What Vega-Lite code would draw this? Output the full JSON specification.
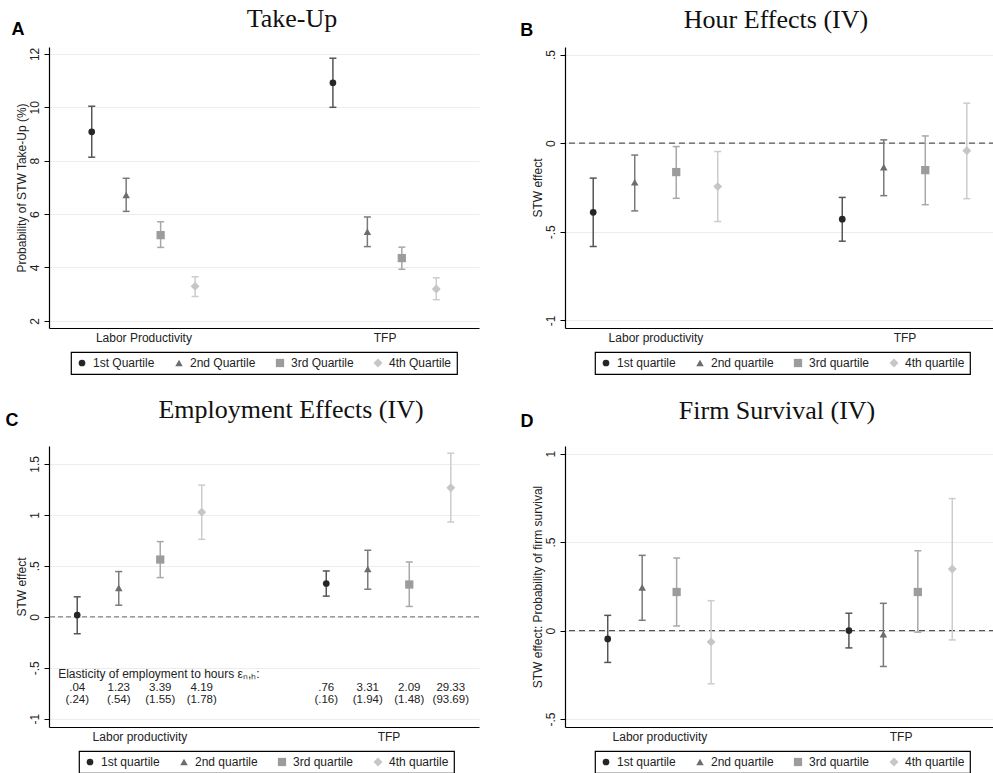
{
  "$schema": "https://vega.github.io/schema/vega-lite/v6.json",
  "background": "white",
  "padding": {"left": 5, "top": 5, "right": 0, "bottom": 0},
  "datasets": {
    "takeup": [
      {"group": "Labor Productivity", "pos": 1, "q": "1st Quartile", "est": 9.08, "lo": 8.13, "hi": 10.04},
      {"group": "Labor Productivity", "pos": 2, "q": "2nd Quartile", "est": 6.71, "lo": 6.10, "hi": 7.34},
      {"group": "Labor Productivity", "pos": 3, "q": "3rd Quartile", "est": 5.21, "lo": 4.75, "hi": 5.71},
      {"group": "Labor Productivity", "pos": 4, "q": "4th Quartile", "est": 3.29, "lo": 2.91, "hi": 3.65},
      {"group": "TFP", "pos": 8, "q": "1st Quartile", "est": 10.92, "lo": 10.00, "hi": 11.84},
      {"group": "TFP", "pos": 9, "q": "2nd Quartile", "est": 5.34, "lo": 4.78, "hi": 5.89},
      {"group": "TFP", "pos": 10, "q": "3rd Quartile", "est": 4.35, "lo": 3.93, "hi": 4.76},
      {"group": "TFP", "pos": 11, "q": "4th Quartile", "est": 3.19, "lo": 2.79, "hi": 3.61}
    ],
    "hours": [
      {"group": "Labor productivity", "pos": 1, "q": "1st quartile", "est": -0.39, "lo": -0.583, "hi": -0.197},
      {"group": "Labor productivity", "pos": 2, "q": "2nd quartile", "est": -0.221, "lo": -0.382, "hi": -0.067},
      {"group": "Labor productivity", "pos": 3, "q": "3rd quartile", "est": -0.163, "lo": -0.311, "hi": -0.019},
      {"group": "Labor productivity", "pos": 4, "q": "4th quartile", "est": -0.245, "lo": -0.442, "hi": -0.047},
      {"group": "TFP", "pos": 7, "q": "1st quartile", "est": -0.429, "lo": -0.553, "hi": -0.306},
      {"group": "TFP", "pos": 8, "q": "2nd quartile", "est": -0.135, "lo": -0.296, "hi": 0.019},
      {"group": "TFP", "pos": 9, "q": "3rd quartile", "est": -0.152, "lo": -0.347, "hi": 0.041},
      {"group": "TFP", "pos": 10, "q": "4th quartile", "est": -0.043, "lo": -0.313, "hi": 0.226}
    ],
    "employment": [
      {"group": "Labor productivity", "pos": 1, "q": "1st quartile", "est": 0.017, "lo": -0.166, "hi": 0.196, "elas": ".04", "se": "(.24)"},
      {"group": "Labor productivity", "pos": 2, "q": "2nd quartile", "est": 0.284, "lo": 0.114, "hi": 0.444, "elas": "1.23", "se": "(.54)"},
      {"group": "Labor productivity", "pos": 3, "q": "3rd quartile", "est": 0.562, "lo": 0.385, "hi": 0.738, "elas": "3.39", "se": "(1.55)"},
      {"group": "Labor productivity", "pos": 4, "q": "4th quartile", "est": 1.027, "lo": 0.760, "hi": 1.292, "elas": "4.19", "se": "(1.78)"},
      {"group": "TFP", "pos": 7, "q": "1st quartile", "est": 0.327, "lo": 0.203, "hi": 0.450, "elas": ".76", "se": "(.16)"},
      {"group": "TFP", "pos": 8, "q": "2nd quartile", "est": 0.470, "lo": 0.271, "hi": 0.653, "elas": "3.31", "se": "(1.94)"},
      {"group": "TFP", "pos": 9, "q": "3rd quartile", "est": 0.317, "lo": 0.102, "hi": 0.538, "elas": "2.09", "se": "(1.48)"},
      {"group": "TFP", "pos": 10, "q": "4th quartile", "est": 1.266, "lo": 0.930, "hi": 1.605, "elas": "29.33", "se": "(93.69)"}
    ],
    "survival": [
      {"group": "Labor productivity", "pos": 1, "q": "1st quartile", "est": -0.047, "lo": -0.180, "hi": 0.086},
      {"group": "Labor productivity", "pos": 2, "q": "2nd quartile", "est": 0.244, "lo": 0.058, "hi": 0.425},
      {"group": "Labor productivity", "pos": 3, "q": "3rd quartile", "est": 0.218, "lo": 0.026, "hi": 0.410},
      {"group": "Labor productivity", "pos": 4, "q": "4th quartile", "est": -0.064, "lo": -0.301, "hi": 0.169},
      {"group": "TFP", "pos": 8, "q": "1st quartile", "est": 0.0, "lo": -0.098, "hi": 0.098},
      {"group": "TFP", "pos": 9, "q": "2nd quartile", "est": -0.021, "lo": -0.203, "hi": 0.154},
      {"group": "TFP", "pos": 10, "q": "3rd quartile", "est": 0.218, "lo": -0.009, "hi": 0.451},
      {"group": "TFP", "pos": 11, "q": "4th quartile", "est": 0.348, "lo": -0.053, "hi": 0.746}
    ]
  },
  "columns": 2,
  "spacing": {"row": 22, "column": 40},
  "concat": [
    {
      "width": 430, "height": 281,
      "title": {"text": "Take-Up", "dx": 28},
      "data": {"name": "takeup"},
      "layer": [
        {
          "mark": {"type": "rule", "strokeWidth": 1.5},
          "encoding": {
            "x": {"field": "pos", "type": "quantitative", "scale": {"domain": [-0.24, 12.24], "nice": false, "zero": false},
                  "axis": {"values": [2.5, 9.5], "labelExpr": "datum.value < 6 ? 'Labor Productivity' : 'TFP'", "title": null}},
            "y": {"field": "lo", "type": "quantitative", "scale": {"domain": [1.73, 12.26], "nice": false, "zero": false},
                  "axis": {"values": [2, 4, 6, 8, 10, 12], "title": "Probability of STW Take-Up (%)"}},
            "y2": {"field": "hi"},
            "stroke": {"field": "q", "type": "nominal", "legend": null,
                       "scale": {"range": ["#555555", "#7a7a7a", "#a8a8a8", "#cccccc"]}}
          }
        },
        {
          "mark": {"type": "rule", "strokeWidth": 1.5, "xOffset": -3.5, "x2Offset": 3.5},
          "encoding": {
            "x": {"field": "pos", "type": "quantitative"},
            "x2": {"field": "pos"},
            "y": {"field": "lo", "type": "quantitative"},
            "stroke": {"field": "q", "type": "nominal", "legend": null}
          }
        },
        {
          "mark": {"type": "rule", "strokeWidth": 1.5, "xOffset": -3.5, "x2Offset": 3.5},
          "encoding": {
            "x": {"field": "pos", "type": "quantitative"},
            "x2": {"field": "pos"},
            "y": {"field": "hi", "type": "quantitative"},
            "stroke": {"field": "q", "type": "nominal", "legend": null}
          }
        },
        {
          "mark": {"type": "point", "filled": true, "opacity": 1},
          "encoding": {
            "x": {"field": "pos", "type": "quantitative"},
            "y": {"field": "est", "type": "quantitative"},
            "color": {"field": "q", "type": "nominal", "legend": {"title": null, "legendX": 22, "legendY": 305},
                      "scale": {"domain": ["1st Quartile", "2nd Quartile", "3rd Quartile", "4th Quartile"], "range": ["#262626", "#6d6d6d", "#9c9c9c", "#c6c6c6"]}},
            "shape": {"field": "q", "type": "nominal", "legend": {"title": null, "legendX": 22, "legendY": 305},
                      "scale": {"domain": ["1st Quartile", "2nd Quartile", "3rd Quartile", "4th Quartile"], "range": ["circle", "triangle-up", "square", "diamond"]}},
            "size": {"field": "q", "type": "nominal", "legend": {"title": null, "legendX": 22, "legendY": 305},
                     "scale": {"domain": ["1st Quartile", "2nd Quartile", "3rd Quartile", "4th Quartile"], "range": [45, 80, 50, 85]}}
          }
        },
        {
          "data": {"values": [{"panel": "A"}]},
          "mark": {"type": "text", "font": "Liberation Sans", "fontSize": 18, "fontWeight": "bold", "align": "center", "baseline": "middle", "color": "#000"},
          "encoding": {
            "text": {"field": "panel"},
            "x": {"datum": -1.14},
            "y": {"datum": 12.9}
          }
        }
      ]
    },
    {
      "width": 430, "height": 281,
      "title": {"text": "Hour Effects (IV)", "dx": -4},
      "data": {"name": "hours"},
      "layer": [
        {
          "data": {"values": [{}]},
          "mark": {"type": "rule", "strokeDash": [6, 4], "color": "#555555", "strokeWidth": 1.2},
          "encoding": {"y": {"datum": 0}}
        },
        {
          "mark": {"type": "rule", "strokeWidth": 1.5},
          "encoding": {
            "x": {"field": "pos", "type": "quantitative", "scale": {"domain": [0.32, 10.68], "nice": false, "zero": false},
                  "axis": {"values": [2.5, 8.5], "labelExpr": "datum.value < 5 ? 'Labor productivity' : 'TFP'", "title": null}},
            "y": {"field": "lo", "type": "quantitative", "scale": {"domain": [-1.043, 0.543], "nice": false, "zero": false},
                  "axis": {"values": [-1, -0.5, 0, 0.5], "labelExpr": "replace(toString(datum.value), '0.', '.')", "title": "STW effect"}},
            "y2": {"field": "hi"},
            "stroke": {"field": "q", "type": "nominal", "legend": null,
                       "scale": {"range": ["#555555", "#7a7a7a", "#a8a8a8", "#cccccc"]}}
          }
        },
        {
          "mark": {"type": "rule", "strokeWidth": 1.5, "xOffset": -3.5, "x2Offset": 3.5},
          "encoding": {
            "x": {"field": "pos", "type": "quantitative"},
            "x2": {"field": "pos"},
            "y": {"field": "lo", "type": "quantitative"},
            "stroke": {"field": "q", "type": "nominal", "legend": null}
          }
        },
        {
          "mark": {"type": "rule", "strokeWidth": 1.5, "xOffset": -3.5, "x2Offset": 3.5},
          "encoding": {
            "x": {"field": "pos", "type": "quantitative"},
            "x2": {"field": "pos"},
            "y": {"field": "hi", "type": "quantitative"},
            "stroke": {"field": "q", "type": "nominal", "legend": null}
          }
        },
        {
          "mark": {"type": "point", "filled": true, "opacity": 1},
          "encoding": {
            "x": {"field": "pos", "type": "quantitative"},
            "y": {"field": "est", "type": "quantitative"},
            "color": {"field": "q", "type": "nominal", "legend": {"title": null, "legendX": 30, "legendY": 305},
                      "scale": {"domain": ["1st quartile", "2nd quartile", "3rd quartile", "4th quartile"], "range": ["#262626", "#6d6d6d", "#9c9c9c", "#c6c6c6"]}},
            "shape": {"field": "q", "type": "nominal", "legend": {"title": null, "legendX": 30, "legendY": 305},
                      "scale": {"domain": ["1st quartile", "2nd quartile", "3rd quartile", "4th quartile"], "range": ["circle", "triangle-up", "square", "diamond"]}},
            "size": {"field": "q", "type": "nominal", "legend": {"title": null, "legendX": 30, "legendY": 305},
                     "scale": {"domain": ["1st quartile", "2nd quartile", "3rd quartile", "4th quartile"], "range": [45, 80, 50, 85]}}
          }
        },
        {
          "data": {"values": [{"panel": "B"}]},
          "mark": {"type": "text", "font": "Liberation Sans", "fontSize": 18, "fontWeight": "bold", "align": "center", "baseline": "middle", "color": "#000"},
          "encoding": {
            "text": {"field": "panel"},
            "x": {"datum": -0.6},
            "y": {"datum": 0.631}
          }
        }
      ]
    },
    {
      "width": 430, "height": 281,
      "title": {"text": "Employment Effects (IV)", "dx": 27},
      "data": {"name": "employment"},
      "layer": [
        {
          "data": {"values": [{}]},
          "mark": {"type": "rule", "strokeDash": [5, 3], "color": "#9a9a9a", "strokeWidth": 1.6},
          "encoding": {"y": {"datum": 0}}
        },
        {
          "mark": {"type": "rule", "strokeWidth": 1.5},
          "encoding": {
            "x": {"field": "pos", "type": "quantitative", "scale": {"domain": [0.32, 10.68], "nice": false, "zero": false},
                  "axis": {"values": [2.5, 8.5], "labelExpr": "datum.value < 5 ? 'Labor productivity' : 'TFP'", "title": null}},
            "y": {"field": "lo", "type": "quantitative", "scale": {"domain": [-1.081, 1.676], "nice": false, "zero": false},
                  "axis": {"values": [-1, -0.5, 0, 0.5, 1, 1.5], "labelExpr": "replace(toString(datum.value), '0.', '.')", "title": "STW effect"}},
            "y2": {"field": "hi"},
            "stroke": {"field": "q", "type": "nominal", "legend": null,
                       "scale": {"range": ["#555555", "#7a7a7a", "#a8a8a8", "#cccccc"]}}
          }
        },
        {
          "mark": {"type": "rule", "strokeWidth": 1.5, "xOffset": -3.5, "x2Offset": 3.5},
          "encoding": {
            "x": {"field": "pos", "type": "quantitative"},
            "x2": {"field": "pos"},
            "y": {"field": "lo", "type": "quantitative"},
            "stroke": {"field": "q", "type": "nominal", "legend": null}
          }
        },
        {
          "mark": {"type": "rule", "strokeWidth": 1.5, "xOffset": -3.5, "x2Offset": 3.5},
          "encoding": {
            "x": {"field": "pos", "type": "quantitative"},
            "x2": {"field": "pos"},
            "y": {"field": "hi", "type": "quantitative"},
            "stroke": {"field": "q", "type": "nominal", "legend": null}
          }
        },
        {
          "mark": {"type": "point", "filled": true, "opacity": 1},
          "encoding": {
            "x": {"field": "pos", "type": "quantitative"},
            "y": {"field": "est", "type": "quantitative"},
            "color": {"field": "q", "type": "nominal", "legend": {"title": null, "legendX": 30, "legendY": 305},
                      "scale": {"domain": ["1st quartile", "2nd quartile", "3rd quartile", "4th quartile"], "range": ["#262626", "#6d6d6d", "#9c9c9c", "#c6c6c6"]}},
            "shape": {"field": "q", "type": "nominal", "legend": {"title": null, "legendX": 30, "legendY": 305},
                      "scale": {"domain": ["1st quartile", "2nd quartile", "3rd quartile", "4th quartile"], "range": ["circle", "triangle-up", "square", "diamond"]}},
            "size": {"field": "q", "type": "nominal", "legend": {"title": null, "legendX": 30, "legendY": 305},
                     "scale": {"domain": ["1st quartile", "2nd quartile", "3rd quartile", "4th quartile"], "range": [45, 80, 50, 85]}}
          }
        },
        {
          "mark": {"type": "text", "fontSize": 11.5, "align": "center", "baseline": "middle", "color": "#222"},
          "encoding": {
            "x": {"field": "pos", "type": "quantitative"},
            "y": {"datum": -0.7},
            "text": {"field": "elas"}
          }
        },
        {
          "mark": {"type": "text", "fontSize": 11.5, "align": "center", "baseline": "middle", "color": "#222"},
          "encoding": {
            "x": {"field": "pos", "type": "quantitative"},
            "y": {"datum": -0.812},
            "text": {"field": "se"}
          }
        },
        {
          "data": {"values": [{"label": "Elasticity of employment to hours εₙ,ₕ:"}]},
          "mark": {"type": "text", "fontSize": 12, "align": "left", "baseline": "middle", "color": "#222"},
          "encoding": {
            "x": {"datum": 0.54},
            "y": {"datum": -0.558},
            "text": {"field": "label"}
          }
        },
        {
          "data": {"values": [{"panel": "C"}]},
          "mark": {"type": "text", "font": "Liberation Sans", "fontSize": 18, "fontWeight": "bold", "align": "center", "baseline": "middle", "color": "#000"},
          "encoding": {
            "text": {"field": "panel"},
            "x": {"datum": -0.574},
            "y": {"datum": 1.921}
          }
        }
      ]
    },
    {
      "width": 430, "height": 281,
      "title": {"text": "Firm Survival (IV)", "dx": -3},
      "data": {"name": "survival"},
      "layer": [
        {
          "data": {"values": [{}]},
          "mark": {"type": "rule", "strokeDash": [6, 4], "color": "#555555", "strokeWidth": 1.2},
          "encoding": {"y": {"datum": 0}}
        },
        {
          "mark": {"type": "rule", "strokeWidth": 1.5},
          "encoding": {
            "x": {"field": "pos", "type": "quantitative", "scale": {"domain": [-0.24, 12.24], "nice": false, "zero": false},
                  "axis": {"values": [2.5, 9.5], "labelExpr": "datum.value < 6 ? 'Labor productivity' : 'TFP'", "title": null}},
            "y": {"field": "lo", "type": "quantitative", "scale": {"domain": [-0.545, 1.043], "nice": false, "zero": false},
                  "axis": {"values": [-0.5, 0, 0.5, 1], "labelExpr": "replace(toString(datum.value), '0.', '.')", "title": "STW effect: Probability of firm survival"}},
            "y2": {"field": "hi"},
            "stroke": {"field": "q", "type": "nominal", "legend": null,
                       "scale": {"range": ["#555555", "#7a7a7a", "#a8a8a8", "#cccccc"]}}
          }
        },
        {
          "mark": {"type": "rule", "strokeWidth": 1.5, "xOffset": -3.5, "x2Offset": 3.5},
          "encoding": {
            "x": {"field": "pos", "type": "quantitative"},
            "x2": {"field": "pos"},
            "y": {"field": "lo", "type": "quantitative"},
            "stroke": {"field": "q", "type": "nominal", "legend": null}
          }
        },
        {
          "mark": {"type": "rule", "strokeWidth": 1.5, "xOffset": -3.5, "x2Offset": 3.5},
          "encoding": {
            "x": {"field": "pos", "type": "quantitative"},
            "x2": {"field": "pos"},
            "y": {"field": "hi", "type": "quantitative"},
            "stroke": {"field": "q", "type": "nominal", "legend": null}
          }
        },
        {
          "mark": {"type": "point", "filled": true, "opacity": 1},
          "encoding": {
            "x": {"field": "pos", "type": "quantitative"},
            "y": {"field": "est", "type": "quantitative"},
            "color": {"field": "q", "type": "nominal", "legend": {"title": null, "legendX": 30, "legendY": 305},
                      "scale": {"domain": ["1st quartile", "2nd quartile", "3rd quartile", "4th quartile"], "range": ["#262626", "#6d6d6d", "#9c9c9c", "#c6c6c6"]}},
            "shape": {"field": "q", "type": "nominal", "legend": {"title": null, "legendX": 30, "legendY": 305},
                      "scale": {"domain": ["1st quartile", "2nd quartile", "3rd quartile", "4th quartile"], "range": ["circle", "triangle-up", "square", "diamond"]}},
            "size": {"field": "q", "type": "nominal", "legend": {"title": null, "legendX": 30, "legendY": 305},
                     "scale": {"domain": ["1st quartile", "2nd quartile", "3rd quartile", "4th quartile"], "range": [45, 80, 50, 85]}}
          }
        },
        {
          "data": {"values": [{"panel": "D"}]},
          "mark": {"type": "text", "font": "Liberation Sans", "fontSize": 18, "fontWeight": "bold", "align": "center", "baseline": "middle", "color": "#000"},
          "encoding": {
            "text": {"field": "panel"},
            "x": {"datum": -1.34},
            "y": {"datum": 1.177}
          }
        }
      ]
    }
  ],
  "resolve": {
    "scale": {"color": "independent", "shape": "independent", "stroke": "independent", "size": "independent"},
    "legend": {"color": "independent", "shape": "independent", "size": "independent"}
  },
  "config": {
    "font": "Liberation Sans",
    "view": {"stroke": null},
    "title": {"font": "Liberation Serif", "fontSize": 26, "fontWeight": "normal", "color": "#111111", "anchor": "middle", "offset": -11},
    "axis": {"domainColor": "#000000", "domainWidth": 1.2, "labelColor": "#222222", "labelFontSize": 12, "titleFontSize": 12, "titleFontWeight": "normal", "titleColor": "#222222", "gridColor": "#ececec", "tickColor": "#000000", "labelFont": "Liberation Sans", "titleFont": "Liberation Sans"},
    "axisY": {"labelAngle": -90, "labelAlign": "center", "labelBaseline": "bottom", "tickSize": 5, "labelPadding": 3, "titlePadding": 0, "grid": true},
    "axisX": {"ticks": false, "grid": false, "labelPadding": 4},
    "legend": {"orient": "none", "direction": "horizontal", "strokeColor": "#000000", "strokeWidth": 1.2, "padding": 5, "labelFontSize": 12, "labelColor": "#222222", "labelOffset": 5, "columnPadding": 18, "symbolStrokeWidth": 0, "fillColor": "#ffffff"},
    "text": {"font": "Liberation Sans"}
  }
}
